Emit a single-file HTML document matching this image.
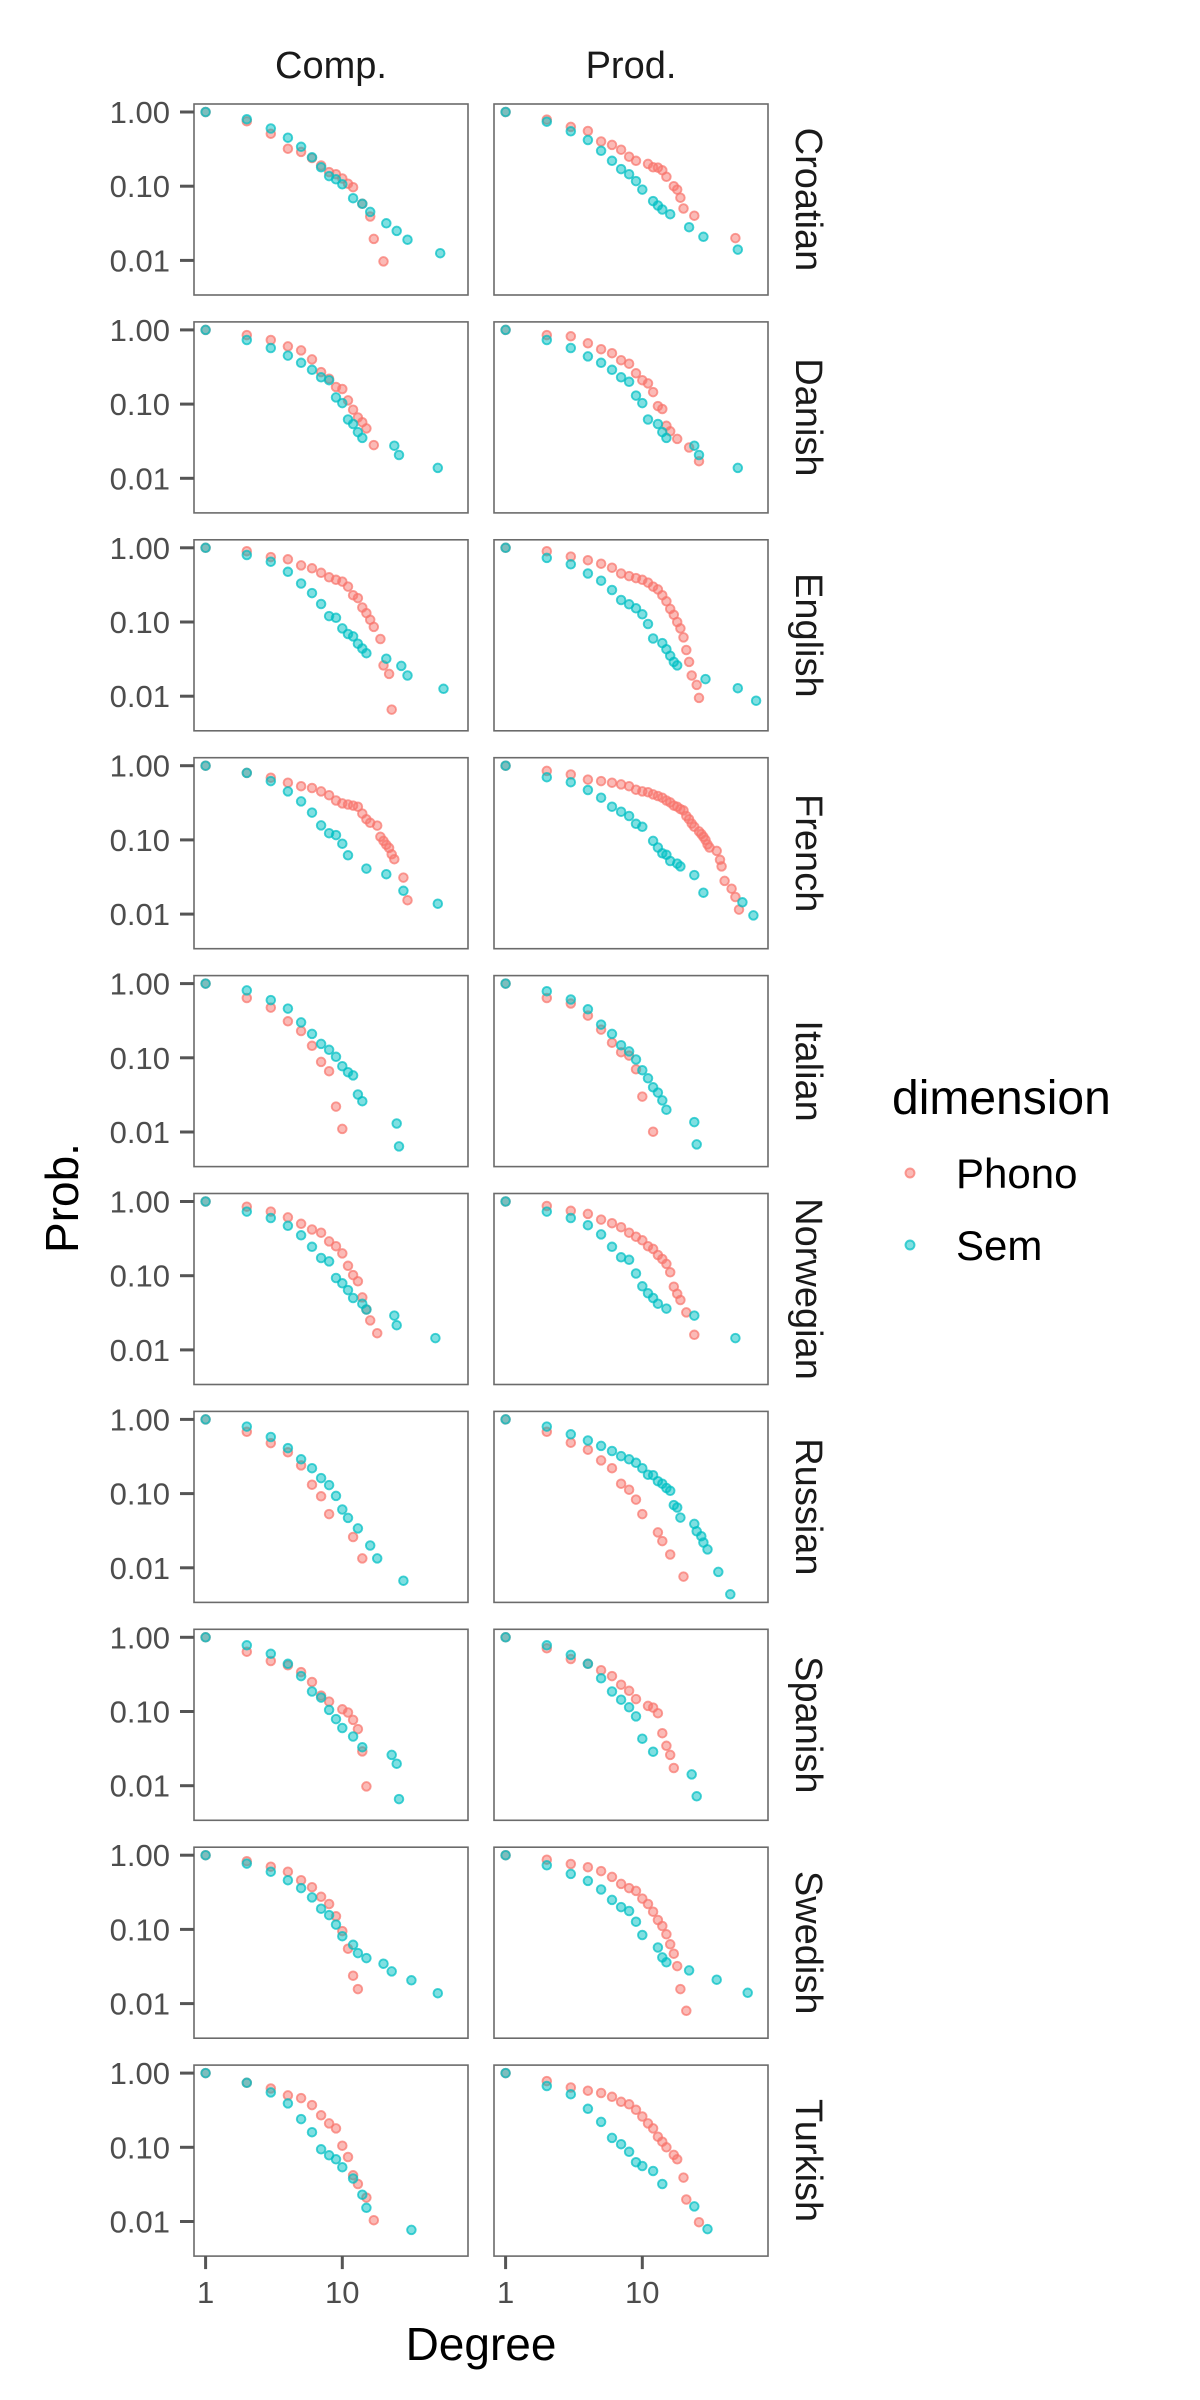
<!DOCTYPE html>
<html>
<head>
<meta charset="utf-8">
<style>
html,body{margin:0;padding:0;background:#fff;}
svg{display:block;}
text{font-family:"Liberation Sans",Arial,sans-serif;}
</style>
</head>
<body>
<svg id="chart" width="1200" height="2400" viewBox="0 0 1200 2400" xmlns="http://www.w3.org/2000/svg"></svg>
<script>
// ---- data: [degree, probability] pairs ----
const languages = ["Croatian","Danish","English","French","Italian","Norwegian","Russian","Spanish","Swedish","Turkish"];
const conditions = ["Comp.","Prod."];
const dimensions = ["Phono","Sem"];
const yTickValues = [1, 0.1, 0.01];
const yTickLabels = ["1.00","0.10","0.01"];
const xTickValues = [1, 10];
const xTickLabels = ["1","10"];

const croatian_comp_phono = [[1,1],[2,.75],[3,.51],[4,.32],[5,.29],[6,.24],[7,.19],[8,.155],[9,.145],[10,.127],[11,.108],[12,.097],[14,.058],[16,.039],[17,.0195],[20,.0097]];
const croatian_comp_sem = [[1,1],[2,.80],[3,.60],[4,.45],[5,.34],[6,.245],[7,.18],[8,.137],[9,.124],[10,.106],[12,.069],[14,.058],[16,.045],[21,.0316],[25,.025],[30,.019],[52,.0125]];
const croatian_prod_phono = [[1,1],[2,.79],[3,.63],[4,.555],[5,.40],[6,.36],[7,.31],[8,.25],[9,.22],[11,.20],[12,.18],[13,.178],[14,.164],[15,.134],[17,.10],[18,.09],[19,.070],[20,.050],[24,.040],[48,.020]];
const croatian_prod_sem = [[1,1],[2,.74],[3,.55],[4,.42],[5,.30],[6,.22],[7,.17],[8,.145],[9,.117],[10,.090],[12,.063],[13,.055],[14,.0485],[16,.042],[22,.028],[28,.0208],[50,.014]];

const danish_comp_phono = [[1,1],[2,.85],[3,.73],[4,.60],[5,.53],[6,.40],[7,.27],[8,.22],[9,.17],[10,.16],[11,.112],[12,.084],[13,.066],[14,.057],[15,.047],[17,.028]];
const danish_comp_sem = [[1,1],[2,.73],[3,.57],[4,.45],[5,.36],[6,.29],[7,.23],[8,.21],[9,.123],[10,.103],[11,.062],[12,.054],[13,.042],[14,.035],[24,.0275],[26,.0206],[50,.0138]];
const danish_prod_phono = [[1,1],[2,.85],[3,.82],[4,.66],[5,.55],[6,.485],[7,.39],[8,.35],[9,.26],[10,.21],[11,.19],[12,.145],[13,.094],[14,.086],[15,.051],[16,.043],[18,.034],[22,.026],[26,.017]];
const danish_prod_sem = [[1,1],[2,.73],[3,.57],[4,.44],[5,.36],[6,.29],[7,.23],[8,.20],[9,.13],[10,.103],[11,.062],[13,.054],[14,.042],[15,.035],[24,.0275],[26,.0206],[50,.0138]];

const english_comp_phono = [[1,1],[2,.90],[3,.75],[4,.70],[5,.58],[6,.53],[7,.46],[8,.40],[9,.37],[10,.35],[11,.30],[12,.23],[13,.21],[14,.157],[15,.132],[16,.107],[17,.086],[19,.059],[20,.026],[22,.020],[23,.0066]];
const english_comp_sem = [[1,1],[2,.80],[3,.65],[4,.475],[5,.33],[6,.245],[7,.175],[8,.12],[9,.114],[10,.082],[11,.069],[12,.064],[13,.051],[14,.044],[15,.038],[21,.032],[27,.0256],[30,.019],[55,.0126]];
const english_prod_phono = [[1,1],[2,.90],[3,.76],[4,.68],[5,.61],[6,.54],[7,.45],[8,.415],[9,.39],[10,.37],[11,.34],[12,.30],[13,.275],[14,.23],[15,.19],[16,.15],[17,.125],[18,.10],[19,.082],[20,.062],[21,.042],[22,.029],[23,.019],[25,.0142],[26,.0095]];
const english_prod_sem = [[1,1],[2,.73],[3,.60],[4,.45],[5,.36],[6,.27],[7,.198],[8,.173],[9,.153],[10,.127],[11,.094],[12,.06],[14,.052],[15,.043],[16,.035],[17,.029],[18,.026],[29,.017],[50,.0128],[68,.0087]];

const french_comp_phono = [[1,1],[2,.80],[3,.69],[4,.59],[5,.53],[6,.50],[7,.45],[8,.40],[9,.34],[10,.31],[11,.30],[12,.29],[13,.28],[14,.226],[15,.19],[16,.17],[18,.156],[19,.11],[20,.097],[21,.086],[22,.078],[23,.064],[24,.055],[28,.031],[30,.0154]];
const french_comp_sem = [[1,1],[2,.80],[3,.62],[4,.45],[5,.33],[6,.233],[7,.157],[8,.123],[9,.116],[10,.089],[11,.062],[15,.041],[21,.0345],[28,.0206],[50,.0138]];
const french_prod_phono = [[1,1],[2,.85],[3,.76],[4,.65],[5,.62],[6,.59],[7,.56],[8,.53],[9,.475],[10,.45],[11,.44],[12,.41],[13,.39],[14,.37],[15,.34],[16,.32],[17,.29],[18,.28],[19,.26],[20,.25],[21,.21],[22,.19],[23,.166],[24,.15],[26,.13],[27,.12],[28,.11],[29,.10],[30,.087],[31,.079],[35,.071],[37,.054],[38,.044],[40,.028],[45,.022],[48,.017],[51,.0115]];
const french_prod_sem = [[1,1],[2,.70],[3,.60],[4,.47],[5,.37],[6,.28],[7,.24],[8,.21],[9,.165],[10,.15],[12,.097],[13,.079],[14,.066],[15,.063],[16,.052],[18,.048],[19,.044],[24,.0335],[28,.0194],[54,.0144],[65,.0096]];

const italian_comp_phono = [[1,1],[2,.64],[3,.475],[4,.31],[5,.23],[6,.145],[7,.088],[8,.066],[9,.022],[10,.011]];
const italian_comp_sem = [[1,1],[2,.81],[3,.60],[4,.46],[5,.30],[6,.21],[7,.154],[8,.128],[9,.103],[10,.077],[11,.064],[12,.058],[13,.032],[14,.026],[25,.013],[26,.0064]];
const italian_prod_phono = [[1,1],[2,.64],[3,.54],[4,.37],[5,.24],[6,.16],[7,.119],[8,.107],[9,.07],[10,.030],[12,.0101]];
const italian_prod_sem = [[1,1],[2,.79],[3,.61],[4,.45],[5,.28],[6,.21],[7,.148],[8,.122],[9,.095],[10,.068],[11,.053],[12,.040],[13,.034],[14,.0267],[15,.020],[24,.0136],[25,.0068]];

const norwegian_comp_phono = [[1,1],[2,.85],[3,.73],[4,.61],[5,.50],[6,.42],[7,.38],[8,.29],[9,.25],[10,.20],[11,.136],[12,.102],[13,.084],[14,.051],[15,.035],[16,.025],[18,.0168]];
const norwegian_comp_sem = [[1,1],[2,.73],[3,.60],[4,.47],[5,.35],[6,.245],[7,.173],[8,.156],[9,.093],[10,.079],[11,.064],[12,.050],[14,.042],[15,.035],[24,.029],[25,.0215],[48,.0144]];
const norwegian_prod_phono = [[1,1],[2,.87],[3,.75],[4,.68],[5,.57],[6,.51],[7,.45],[8,.38],[9,.335],[10,.30],[11,.25],[12,.23],[13,.19],[14,.168],[15,.144],[16,.111],[17,.071],[18,.057],[19,.047],[21,.032],[24,.016]];
const norwegian_prod_sem = [[1,1],[2,.73],[3,.60],[4,.48],[5,.36],[6,.245],[7,.177],[8,.164],[9,.107],[10,.072],[11,.058],[12,.050],[13,.042],[15,.036],[24,.029],[48,.0144]];

const russian_comp_phono = [[1,1],[2,.68],[3,.48],[4,.36],[5,.24],[6,.132],[7,.092],[8,.053],[12,.026],[14,.0134]];
const russian_comp_sem = [[1,1],[2,.80],[3,.58],[4,.41],[5,.29],[6,.22],[7,.162],[8,.13],[9,.093],[10,.061],[11,.047],[13,.034],[16,.020],[18,.0134],[28,.0067]];
const russian_prod_phono = [[1,1],[2,.68],[3,.485],[4,.39],[5,.28],[6,.22],[7,.136],[8,.113],[9,.083],[10,.053],[13,.030],[14,.0229],[16,.0151],[20,.0076]];
const russian_prod_sem = [[1,1],[2,.80],[3,.63],[4,.52],[5,.44],[6,.375],[7,.32],[8,.29],[9,.26],[10,.22],[11,.18],[12,.177],[13,.147],[14,.136],[15,.119],[16,.109],[17,.070],[18,.065],[19,.0475],[24,.039],[25,.031],[27,.0267],[28,.0219],[30,.0177],[36,.0088],[44,.0044]];

const spanish_comp_phono = [[1,1],[2,.64],[3,.48],[4,.42],[5,.34],[6,.25],[7,.164],[8,.136],[10,.107],[11,.097],[12,.077],[13,.058],[14,.029],[15,.0098]];
const spanish_comp_sem = [[1,1],[2,.78],[3,.60],[4,.44],[5,.30],[6,.186],[7,.154],[8,.105],[9,.079],[10,.060],[12,.046],[14,.033],[23,.026],[25,.0198],[26,.0066]];
const spanish_prod_phono = [[1,1],[2,.71],[3,.51],[4,.44],[5,.36],[6,.30],[7,.23],[8,.19],[9,.147],[11,.119],[12,.113],[13,.095],[14,.051],[15,.0345],[16,.026],[17,.0173]];
const spanish_prod_sem = [[1,1],[2,.78],[3,.58],[4,.44],[5,.28],[6,.186],[7,.144],[8,.114],[9,.086],[10,.043],[12,.0287],[23,.0142],[25,.0072]];

const swedish_comp_phono = [[1,1],[2,.83],[3,.70],[4,.60],[5,.46],[6,.37],[7,.275],[8,.22],[9,.15],[10,.095],[11,.055],[12,.0238],[13,.0157]];
const swedish_comp_sem = [[1,1],[2,.77],[3,.60],[4,.46],[5,.36],[6,.27],[7,.19],[8,.156],[9,.116],[10,.081],[12,.062],[13,.048],[15,.041],[20,.0345],[23,.0272],[32,.0206],[50,.0138]];
const swedish_prod_phono = [[1,1],[2,.87],[3,.76],[4,.69],[5,.61],[6,.51],[7,.41],[8,.36],[9,.33],[10,.26],[11,.22],[12,.173],[13,.134],[14,.111],[15,.086],[16,.063],[17,.047],[18,.032],[19,.0157],[21,.008]];
const swedish_prod_sem = [[1,1],[2,.73],[3,.56],[4,.45],[5,.345],[6,.25],[7,.20],[8,.177],[9,.127],[10,.084],[13,.057],[14,.042],[15,.036],[22,.028],[35,.021],[59,.014]];

const turkish_comp_phono = [[1,1],[2,.74],[3,.62],[4,.50],[5,.46],[6,.37],[7,.27],[8,.21],[9,.18],[10,.105],[11,.074],[12,.042],[13,.032],[15,.021],[17,.0104]];
const turkish_comp_sem = [[1,1],[2,.74],[3,.55],[4,.39],[5,.24],[6,.16],[7,.094],[8,.078],[9,.069],[10,.054],[12,.038],[14,.023],[15,.0153],[32,.0077]];
const turkish_prod_phono = [[1,1],[2,.78],[3,.64],[4,.58],[5,.54],[6,.48],[7,.41],[8,.38],[9,.32],[10,.26],[11,.21],[12,.18],[13,.139],[14,.119],[15,.10],[17,.079],[18,.069],[20,.039],[21,.0198],[26,.0098]];
const turkish_prod_sem = [[1,1],[2,.67],[3,.52],[4,.33],[5,.22],[6,.134],[7,.11],[8,.087],[9,.063],[10,.056],[12,.048],[14,.032],[24,.016],[30,.0079]];

const seriesTable = {
  Croatian:[[croatian_comp_phono,croatian_comp_sem],[croatian_prod_phono,croatian_prod_sem]],
  Danish:[[danish_comp_phono,danish_comp_sem],[danish_prod_phono,danish_prod_sem]],
  English:[[english_comp_phono,english_comp_sem],[english_prod_phono,english_prod_sem]],
  French:[[french_comp_phono,french_comp_sem],[french_prod_phono,french_prod_sem]],
  Italian:[[italian_comp_phono,italian_comp_sem],[italian_prod_phono,italian_prod_sem]],
  Norwegian:[[norwegian_comp_phono,norwegian_comp_sem],[norwegian_prod_phono,norwegian_prod_sem]],
  Russian:[[russian_comp_phono,russian_comp_sem],[russian_prod_phono,russian_prod_sem]],
  Spanish:[[spanish_comp_phono,spanish_comp_sem],[spanish_prod_phono,spanish_prod_sem]],
  Swedish:[[swedish_comp_phono,swedish_comp_sem],[swedish_prod_phono,swedish_prod_sem]],
  Turkish:[[turkish_comp_phono,turkish_comp_sem],[turkish_prod_phono,turkish_prod_sem]]
};

// ---- layout ----
const NS = "http://www.w3.org/2000/svg";
const svg = document.getElementById("chart");
const colLeft = [194, 494];
const panelW = 274, panelH = 191;
const rowTop0 = 104, rowStep = 217.9;
const colors = {Phono:"#F8766D", Sem:"#00BFC4"};

function mk(tag, attrs, parent){
  const e = document.createElementNS(NS, tag);
  for (const k in attrs) e.setAttribute(k, attrs[k]);
  (parent||svg).appendChild(e);
  return e;
}
function xScale(col, d){ return colLeft[col] + 11.6 + 136.7*Math.log10(d); }
function yScale(row, p){ return rowTop0 + row*rowStep + 8 - 74.2*Math.log10(p); }

// strip titles
conditions.forEach((c, ci) => {
  const t = mk("text", {x: colLeft[ci]+panelW/2, y: 78, "text-anchor":"middle", "font-size":38, fill:"#1a1a1a"});
  
  
  t.textContent = c;
});

languages.forEach((lang, ri) => {
  const top = rowTop0 + ri*rowStep;
  const g = mk("g", {});
  
  
  for (let ci = 0; ci < 2; ci++) {
    const pg = mk("g", {}, g);
    
    
    const pairs = seriesTable[lang][ci];
    dimensions.forEach((dim, di) => {
      const sg = mk("g", {}, pg);
      
      
      pairs[di].forEach(pt => {
        const c = mk("circle", {cx: xScale(ci, pt[0]).toFixed(1), cy: yScale(ri, pt[1]).toFixed(1), r: 4.3,
          fill: colors[dim], "fill-opacity": 0.5, stroke: colors[dim], "stroke-opacity": 0.72, "stroke-width": 1.9}, sg);
        
        
      });
    });
    const b = mk("rect", {x: colLeft[ci], y: top, width: panelW, height: panelH, fill: "none", stroke: "#6b6b6b", "stroke-width": 1.6}, pg);
    
    
  }
  // y axis ticks & labels
  yTickValues.forEach((v, ti) => {
    const y = yScale(ri, v);
    const tk = mk("line", {x1: 180, x2: 194, y1: y, y2: y, stroke: "#555", "stroke-width": 3}, g);
    
    
    const tl = mk("text", {x: 170, y: y + 11, "text-anchor": "end", "font-size": 31, fill: "#4d4d4d"}, g);
    
    
    tl.textContent = yTickLabels[ti];
  });
  // right strip
  const cx = 808, cy = top + panelH/2;
  const st = mk("text", {x: cx, y: cy, "text-anchor": "middle", "font-size": 38, fill: "#1a1a1a",
    transform: "rotate(90 " + cx + " " + cy + ")", "dominant-baseline": "central"}, g);
  
  
  st.textContent = lang;
});

// x axis ticks
const bottom = rowTop0 + 9*rowStep + panelH;
for (let ci = 0; ci < 2; ci++) {
  xTickValues.forEach((v, ti) => {
    const x = xScale(ci, v);
    const tk = mk("line", {x1: x, x2: x, y1: bottom, y2: bottom + 13, stroke: "#555", "stroke-width": 3});
    
    
    const tl = mk("text", {x: x, y: bottom + 47, "text-anchor": "middle", "font-size": 31, fill: "#4d4d4d"});
    
    
    tl.textContent = xTickLabels[ti];
  });
}

// axis titles
const xt = mk("text", {x: 481, y: 2360, "text-anchor": "middle", "font-size": 46, fill: "#000"});


xt.textContent = "Degree";
const yt = mk("text", {x: 62, y: 1198, "text-anchor": "middle", "font-size": 46, fill: "#000",
  transform: "rotate(-90 62 1198)", "dominant-baseline": "central"});


yt.textContent = "Prob.";

// legend
const lg = mk("g", {});


const lt = mk("text", {x: 892, y: 1114, "font-size": 48, fill: "#000"}, lg);


lt.textContent = "dimension";
const legendY = [1173, 1245];
dimensions.forEach((dim, di) => {
  const eg = mk("g", {}, lg);
  
  
  const c = mk("circle", {cx: 910, cy: legendY[di], r: 4.5, fill: colors[dim], "fill-opacity": 0.5, stroke: colors[dim], "stroke-opacity": 0.72, "stroke-width": 1.9}, eg);
  
  
  const t = mk("text", {x: 956, y: legendY[di] + 15, "font-size": 42, fill: "#000"}, eg);
  
  
  t.textContent = dim;
});
</script>
</body>
</html>
